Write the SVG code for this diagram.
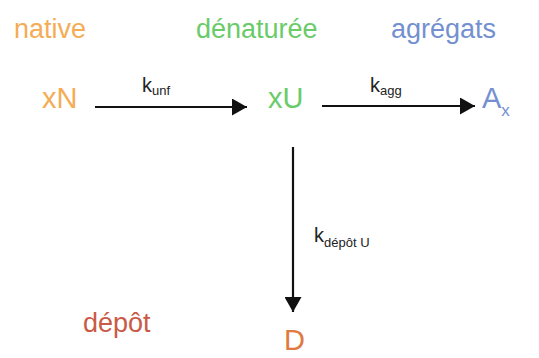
<svg xmlns="http://www.w3.org/2000/svg" width="539" height="358" viewBox="0 0 539 358">
<style>
text{font-family:"Liberation Sans",Arial,sans-serif}
.h{font-size:27px}
.s{font-size:29px}
.k{font-size:20px;fill:#222}
.sub{font-size:13px;fill:#222}
.or{fill:#f4ac55}.gr{fill:#6acb6a}.bl{fill:#7490d0}.rd{fill:#c95a46}.dd{fill:#e07a40}
line{stroke:#111;stroke-width:2.2}
</style>
<defs>
<marker id="ah" viewBox="0 0 15 17" refX="15" refY="8.5" markerWidth="15" markerHeight="17" markerUnits="userSpaceOnUse" orient="auto">
<path d="M0,0 L15,8.5 L0,17 Z" fill="#111"/>
</marker>
</defs>
<text class="h or" x="14" y="38">native</text>
<text class="h gr" x="196" y="38">dénaturée</text>
<text class="h bl" x="391" y="38">agrégats</text>
<text class="h rd" x="83" y="332">dépôt</text>
<g id="xN"><text class="s or" x="42" y="108">xN</text></g>
<g id="xU"><text class="s gr" x="268" y="108">xU</text></g>
<g id="Ax"><text class="s bl" x="482" y="108">A<tspan font-size="17" dy="8">x</tspan></text></g>
<g id="D"><text class="s dd" x="284" y="350">D</text></g>
<g id="connectors">
<line x1="95" y1="107" x2="247" y2="107" marker-end="url(#ah)"/>
<line x1="322" y1="106" x2="475" y2="106" marker-end="url(#ah)"/>
<line x1="293" y1="147" x2="293" y2="312" marker-end="url(#ah)"/>
<text class="k" x="142" y="92">k<tspan class="sub" dy="3">unf</tspan></text>
<text class="k" x="370" y="92">k<tspan class="sub" dy="3">agg</tspan></text>
<text class="k" x="314" y="242">k<tspan class="sub" dy="5">dépôt U</tspan></text>
</g>
</svg>
